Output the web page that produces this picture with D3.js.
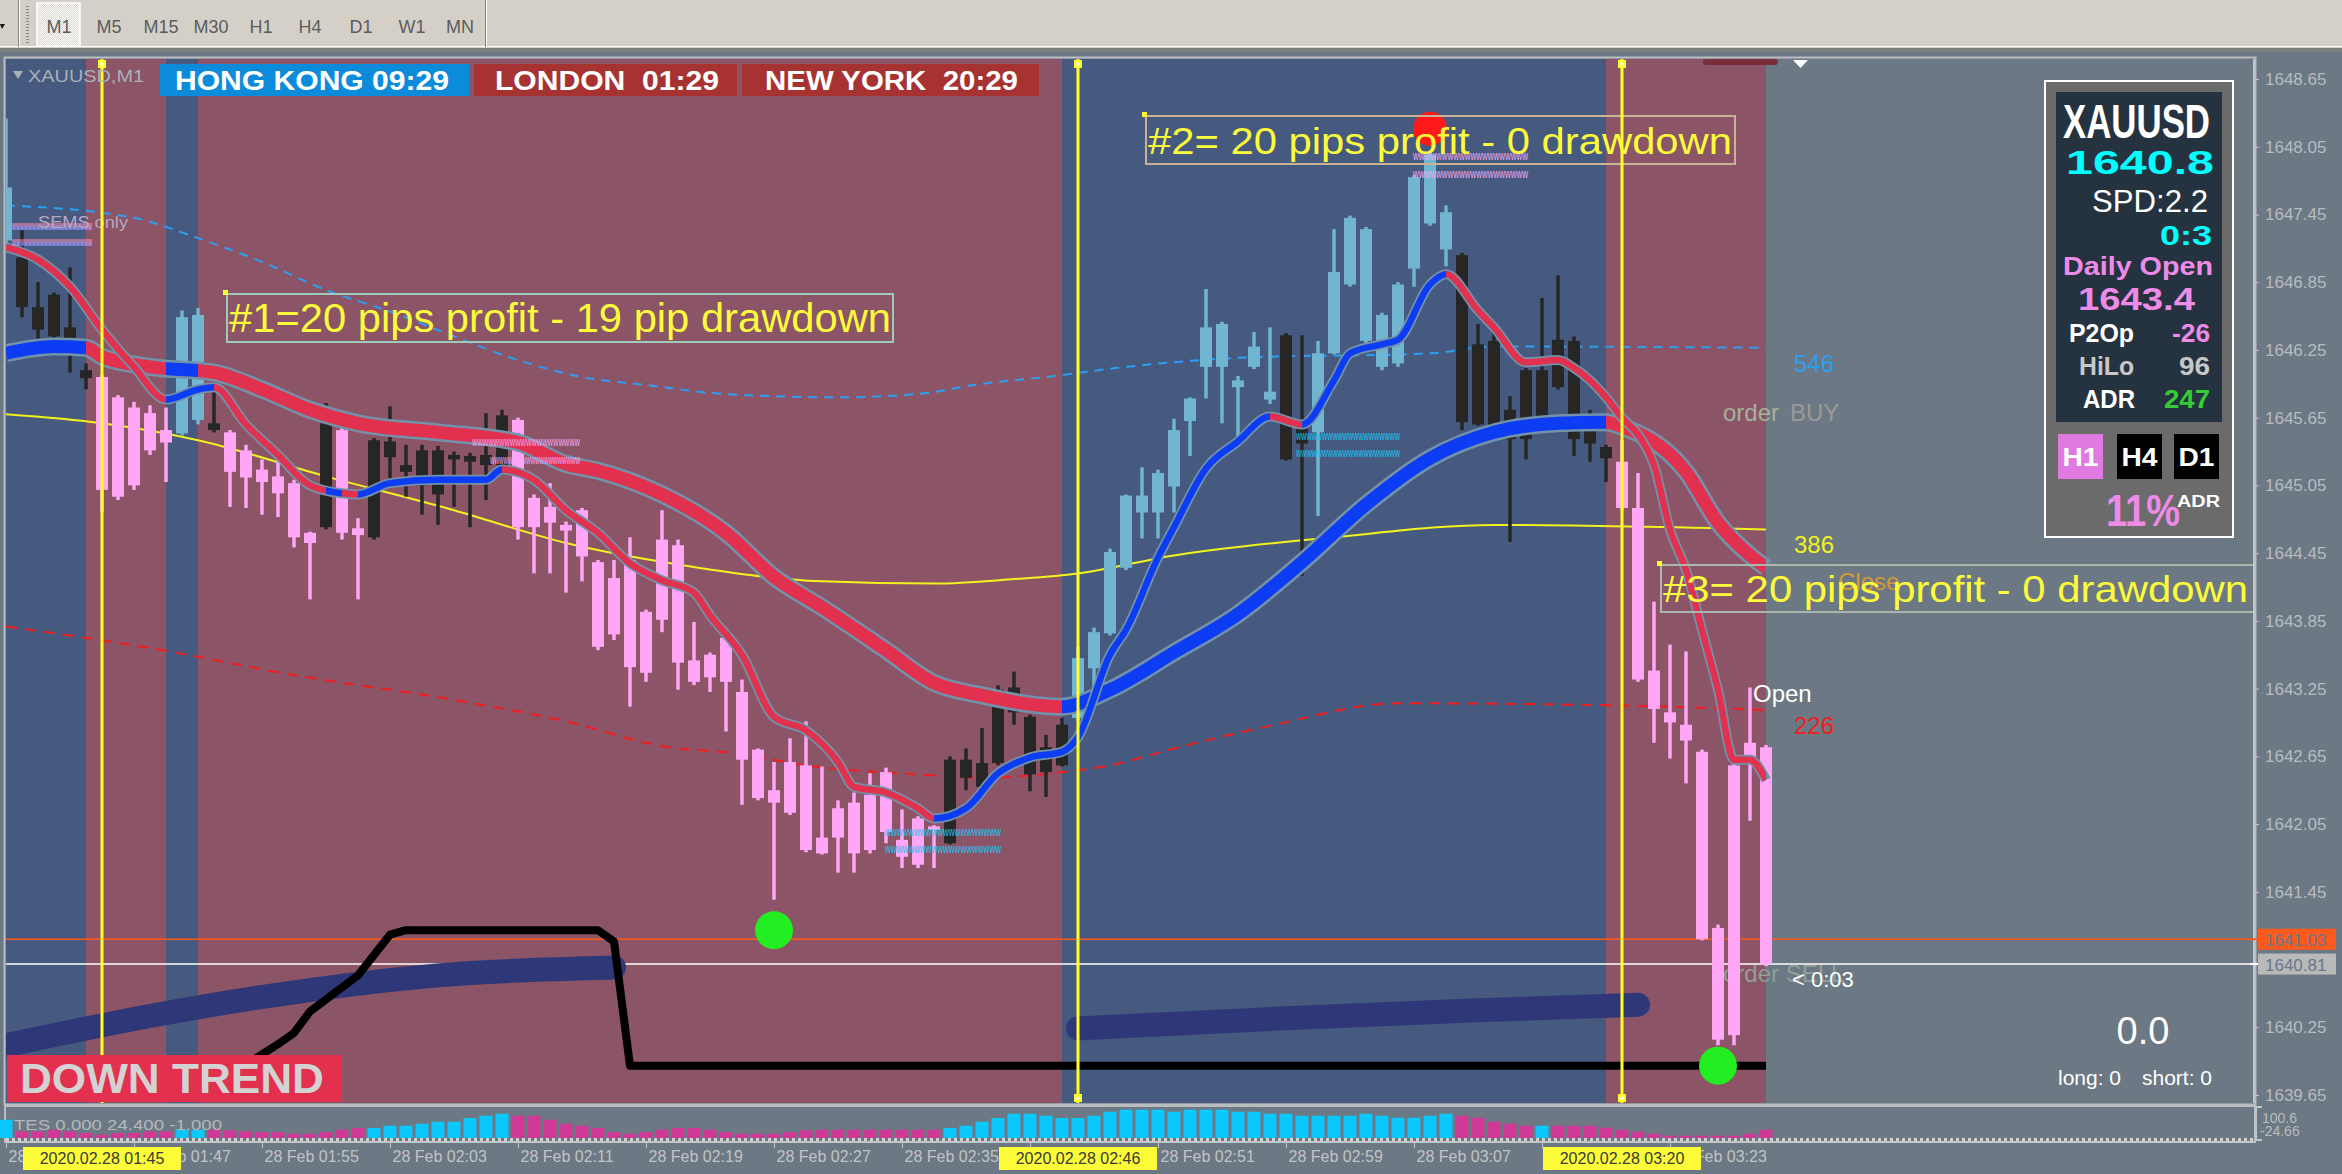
<!DOCTYPE html>
<html>
<head>
<meta charset="utf-8">
<title>XAUUSD,M1</title>
<script src="https://cdnjs.cloudflare.com/ajax/libs/d3/7.8.5/d3.min.js"></script>
<style>
  html, body { margin: 0; padding: 0; background: #6c7883; overflow: hidden; }
  svg { display: block; }
  text { font-family: "Liberation Sans", Arial, sans-serif; }
</style>
</head>
<body>
<div class="chart"></div>
<script>
var svgWidth = 2342;
var svgHeight = 1174;

// ------------------------------------------------------------------
// Data: XAUUSD M1, bar 0 = 01:39, one bar a minute
// ------------------------------------------------------------------
var firstBar = "2020-02-28 01:39";

var barOpen = [1647.22, 1647.07, 1646.63, 1646.74, 1646.45, 1646.07, 1646.01, 1645.83, 1645.74, 1645.69,
  1645.54, 1645.51, 1645.63, 1645.60, 1645.52, 1645.36, 1645.19, 1645.13, 1645.07, 1644.63,
  1644.68, 1645.54, 1644.67, 1644.59, 1645.30, 1645.17, 1645.05, 1644.97, 1645.28, 1645.26,
  1645.23, 1645.23, 1645.63, 1644.94, 1644.86, 1644.70, 1644.83, 1644.37, 1644.23, 1644.39,
  1643.93, 1644.57, 1644.52, 1643.50, 1643.55, 1643.70, 1643.22, 1642.71, 1642.35, 1642.60,
  1642.57, 1641.93, 1642.19, 1642.24, 1642.31, 1642.51, 1641.91, 1642.10, 1642.03, 1641.88,
  1642.62, 1642.38, 1642.59, 1643.04, 1643.00, 1642.51, 1642.57, 1642.99, 1643.43, 1643.74,
  1644.32, 1644.81, 1644.81, 1645.04, 1645.62, 1646.10, 1646.10, 1645.92, 1646.10, 1645.81,
  1646.38, 1645.57, 1645.52, 1646.22, 1646.83, 1646.33, 1646.10, 1646.13, 1646.97, 1647.37,
  1647.14, 1647.09, 1646.30, 1646.33, 1645.72, 1646.07, 1646.07, 1646.34, 1646.33, 1645.67,
  1645.39, 1645.26, 1644.85, 1643.41, 1643.04, 1642.93, 1642.69, 1641.13, 1640.18, 1642.77,
  1642.73];
var barHigh = [1648.30, 1647.31, 1646.85, 1646.76, 1646.98, 1646.13, 1646.03, 1645.85, 1645.79, 1645.76,
  1645.74, 1646.60, 1646.62, 1645.96, 1645.54, 1645.41, 1645.28, 1645.32, 1645.10, 1644.64,
  1645.78, 1645.59, 1644.76, 1645.47, 1645.75, 1645.41, 1645.41, 1645.40, 1645.35, 1645.34,
  1645.69, 1645.72, 1645.65, 1644.97, 1645.07, 1644.73, 1644.85, 1644.39, 1644.39, 1644.59,
  1643.95, 1644.83, 1644.57, 1643.84, 1643.57, 1643.72, 1643.33, 1642.72, 1642.60, 1642.81,
  1642.96, 1642.56, 1642.26, 1642.33, 1642.50, 1642.55, 1642.18, 1642.12, 1642.04, 1642.65,
  1642.72, 1642.90, 1643.28, 1643.40, 1643.02, 1642.84, 1642.99, 1643.62, 1643.79, 1644.49,
  1644.97, 1645.21, 1645.19, 1645.64, 1645.83, 1646.79, 1646.50, 1646.02, 1646.41, 1646.45,
  1646.40, 1646.38, 1646.33, 1647.32, 1647.44, 1647.34, 1646.58, 1646.85, 1647.80, 1648.00,
  1647.53, 1647.11, 1646.48, 1646.43, 1645.84, 1646.09, 1646.71, 1646.91, 1646.37, 1645.72,
  1645.41, 1645.45, 1645.16, 1644.02, 1643.64, 1643.58, 1642.71, 1641.16, 1642.59, 1643.26,
  1642.75];
var barLow = [1647.18, 1646.54, 1646.34, 1646.34, 1646.05, 1645.90, 1644.81, 1644.92, 1645.01, 1645.32,
  1645.08, 1645.49, 1645.59, 1645.52, 1644.86, 1644.85, 1644.79, 1644.77, 1644.50, 1644.04,
  1644.66, 1644.57, 1644.04, 1644.57, 1645.07, 1644.95, 1644.79, 1644.70, 1644.86, 1644.68,
  1644.92, 1645.21, 1644.57, 1644.27, 1644.27, 1644.10, 1644.20, 1643.59, 1643.68, 1643.09,
  1643.31, 1643.75, 1643.24, 1643.28, 1643.22, 1642.87, 1642.22, 1642.26, 1641.38, 1642.13,
  1641.80, 1641.78, 1641.62, 1641.62, 1641.79, 1641.88, 1641.66, 1641.66, 1641.66, 1641.87,
  1642.35, 1642.37, 1642.57, 1642.93, 1642.34, 1642.29, 1642.56, 1642.97, 1643.18, 1643.72,
  1644.30, 1644.58, 1644.58, 1644.81, 1645.31, 1645.82, 1645.60, 1645.42, 1646.08, 1645.77,
  1645.27, 1644.25, 1644.78, 1646.21, 1646.81, 1646.28, 1646.07, 1646.10, 1646.81, 1647.35,
  1646.99, 1645.54, 1645.58, 1645.46, 1644.55, 1645.28, 1645.58, 1645.90, 1645.31, 1645.26,
  1645.08, 1644.83, 1643.31, 1642.77, 1642.63, 1642.41, 1641.02, 1640.09, 1640.09, 1642.08,
  1640.79];
var barClose = [1647.69, 1646.63, 1646.43, 1646.37, 1646.34, 1646.00, 1645.01, 1644.95, 1645.05, 1645.36,
  1645.43, 1646.54, 1646.56, 1645.54, 1645.17, 1645.12, 1645.08, 1644.98, 1644.59, 1644.54,
  1645.60, 1644.63, 1644.61, 1645.45, 1645.44, 1645.23, 1645.36, 1645.36, 1645.32, 1645.31,
  1645.32, 1645.67, 1644.68, 1644.68, 1644.72, 1644.65, 1644.42, 1643.62, 1643.73, 1643.44,
  1643.39, 1643.86, 1643.48, 1643.31, 1643.35, 1643.31, 1642.62, 1642.28, 1642.24, 1642.15,
  1641.82, 1641.79, 1641.93, 1641.79, 1641.82, 1641.98, 1641.76, 1641.69, 1642.00, 1642.62,
  1642.46, 1642.59, 1643.24, 1643.26, 1642.49, 1642.73, 1642.93, 1643.52, 1643.75, 1644.46,
  1644.96, 1644.96, 1645.16, 1645.54, 1645.82, 1646.45, 1646.48, 1645.98, 1646.28, 1645.88,
  1645.28, 1645.42, 1646.22, 1646.94, 1647.42, 1647.32, 1646.56, 1646.83, 1647.78, 1647.98,
  1647.47, 1645.61, 1645.59, 1645.57, 1645.46, 1645.46, 1645.59, 1645.92, 1645.46, 1645.42,
  1645.29, 1644.85, 1643.33, 1643.07, 1642.95, 1642.79, 1641.03, 1640.14, 1642.57, 1642.63,
  1640.81];
// candle colouring: u = bull, d = bear, n = neutral (black)
var barKind = ("u" + "nnnnn" + "ddddd" + "uu" + "n" + "dddddd" + "n" + "dd" + "nnnnnnnnn" +
  "ddddddddddddddddddddddddddd" + "nnnnnnnn" + "uuuuuuuuuuuuu" + "nn" + "uuuuuuuuu" +
  "nnnnnnnnnn" + "dddddddddd").split("");

// slow MA (thick) and fast MA (thin), sampled at bar indices
var slowIdx = [0, 3, 5, 6, 9, 13, 16, 19, 22, 27, 32, 35, 37, 41, 45, 48, 51, 55, 58, 61,
  66, 69, 73, 77, 81, 85, 89, 93, 97, 100, 101, 105, 107, 109, 110];
var slowVal = [1646.22, 1646.28, 1646.27, 1646.19, 1646.10, 1646.05, 1645.90, 1645.72, 1645.60, 1645.52,
  1645.43, 1645.24, 1645.18, 1644.97, 1644.63, 1644.24, 1643.97, 1643.59, 1643.30, 1643.19,
  1643.09, 1643.24, 1643.57, 1643.91, 1644.37, 1644.88, 1645.29, 1645.52, 1645.60, 1645.61,
  1645.57, 1645.17, 1644.72, 1644.43, 1644.32];
var fastIdx = [0, 2, 4, 6, 8, 10, 12, 13, 15, 17, 19, 21, 22, 24, 27, 30, 31, 33, 35, 37,
  39, 41, 43, 44, 46, 48, 50, 52, 53, 55, 57, 58, 60, 62, 64, 66, 67, 69, 70, 72,
  73, 75, 77, 79, 81, 83, 84, 86, 87, 89, 90, 92, 93, 95, 97, 98, 99, 100, 101, 102,
  103, 104, 105, 106, 107, 108, 109, 110];
var fastVal = [1647.16, 1647.05, 1646.81, 1646.43, 1646.10, 1645.81, 1645.90, 1645.92, 1645.59, 1645.32,
  1645.05, 1644.98, 1644.97, 1645.07, 1645.10, 1645.10, 1645.19, 1645.10, 1644.83, 1644.63,
  1644.36, 1644.21, 1644.10, 1643.90, 1643.55, 1643.00, 1642.88, 1642.60, 1642.38, 1642.33,
  1642.19, 1642.10, 1642.19, 1642.50, 1642.64, 1642.69, 1642.82, 1643.55, 1643.77, 1644.41,
  1644.68, 1645.20, 1645.44, 1645.66, 1645.59, 1645.98, 1646.22, 1646.30, 1646.34, 1646.83,
  1646.92, 1646.60, 1646.45, 1646.14, 1646.16, 1646.09, 1645.98, 1645.83, 1645.65, 1645.50,
  1645.23, 1644.66, 1644.30, 1643.77, 1643.24, 1642.62, 1642.62, 1642.44];

// trend state of the slow MA (also colours the background) and of the fast MA
var trendTurn = [0, 5, 10, 12, 66, 100];
var trendDir = ["up", "dn", "up", "dn", "up", "dn"];
var fastTurn = [0, 10, 13, 20, 21, 22, 31, 58, 79, 81, 90];
var fastDir = ["dn", "up", "dn", "up", "dn", "up", "dn", "up", "dn", "up", "dn"];

// thin reference lines
var blueIdx = [0, 8, 12, 16, 20, 24, 28, 32, 36, 40, 44, 48, 52, 57, 61, 65, 70, 77, 89, 93, 110];
var blueVal = [1647.53, 1647.42, 1647.24, 1647.03, 1646.78, 1646.59, 1646.37, 1646.16, 1646.01, 1645.94,
  1645.87, 1645.84, 1645.83, 1645.86, 1645.95, 1646.01, 1646.10, 1646.18, 1646.22, 1646.28, 1646.27];
var yellowIdx = [0, 6, 12, 20, 28, 35, 42, 51, 58, 63, 67, 73, 83, 93, 110];
var yellowVal = [1645.68, 1645.60, 1645.45, 1645.13, 1644.83, 1644.54, 1644.35, 1644.20, 1644.18, 1644.22,
  1644.27, 1644.43, 1644.59, 1644.70, 1644.66];
var redIdx = [0, 9, 18, 28, 35, 41, 46, 50, 57, 61, 66, 69, 73, 79, 87, 101, 110];
var redVal = [1643.80, 1643.61, 1643.37, 1643.15, 1642.96, 1642.74, 1642.67, 1642.57, 1642.49, 1642.46,
  1642.51, 1642.57, 1642.72, 1642.92, 1643.12, 1643.10, 1643.06];
var lineLabels = ["546", "386", "226"];

// navy bands and black step line near the bottom
var navyAIdx = [0, 9, 18, 27, 38];
var navyAVal = [1640.09, 1640.35, 1640.56, 1640.71, 1640.78];
var navyBIdx = [67, 80, 92, 102];
var navyBVal = [1640.24, 1640.33, 1640.40, 1640.45];
var stepIdx = [14, 16, 17, 18, 19, 22, 24, 25, 37, 38, 39, 110];
var stepVal = [1639.83, 1640.01, 1640.10, 1640.20, 1640.39, 1640.71, 1641.07, 1641.11, 1641.11, 1641.01, 1639.91, 1639.91];

// dots (swing markers)
var dotIdx = [48, 107, 89];
var dotVal = [1641.11, 1639.91, 1648.21];
var dotKind = ["low", "low", "high"];

// price lines
var askPrice = 1641.03;
var bidPrice = 1640.81;

// TES histogram, one value per bar (+ cyan, - magenta)
var tesVal = [18.3, -6.7, -6.7, -8.3, -6.7, -5, -3.3, -5, -5, -6.7, -6.7, 8.3, 8.3,
  -8.3, -7.7, -6.7, -6, -6, -4.3, -4.3, -6, -8.3, -10,
  10, 12.3, 12.3, 14.3, 16.3, 16.3, 20, 22.3, 24.3,
  -22.3, -22.3, -18.3, -14.3, -12.3, -10, -6, -4.3, -6, -8.3, -10, -10, -8.3, -6, -4.3, -4.3, -4.3, -6, -7.7,
  -8.3, -8.3, -8.3, -8.3, -8.3, -8.3, -8.3, -8.3,
  10, 12.3, 16.3, 20, 24.3, 24.3, 22.3, 20, 20, 22.3, 26.3, 28.3, 28.3,
  28.3, 26.3, 28.3, 28.3, 28.3, 26.3, 26.3, 24.3, 24.3, 22.3, 22.3, 22.3, 22.3, 24.3, 22.3, 20.3, 20.3, 22.3, 24.3,
  -22.3, -20.3, -16.3, -14.3, -12.3, 12.3,
  -12.3, -12.3, -12.3, -10.3, -8.3, -6.3, -4.3, -2.3, -2.3, -2.3, -2.3, -2.3, -4.3, -8.3];

// axes
var priceTicks = [1648.65, 1648.05, 1647.45, 1646.85, 1646.25, 1645.65, 1645.05, 1644.45, 1643.85,
  1643.25, 1642.65, 1642.05, 1641.45, 1640.25, 1639.65];
var timeTicks = ["01:39", "01:47", "01:55", "02:03", "02:11", "02:19", "02:27", "02:35", "02:43",
  "02:51", "02:59", "03:07", "03:15", "03:23"];
var markTimes = ["01:45", "02:46", "03:20"];

// texts
var timeframes = ["M1", "M5", "M15", "M30", "H1", "H4", "D1", "W1", "MN"];
var sessionNames = ["HONG KONG 09:29", "LONDON  01:29", "NEW YORK  20:29"];
var tradeNotes = ["#1=20 pips profit - 19 pip drawdown", "#2= 20 pips profit - 0 drawdown", "#3= 20 pips profit - 0 drawdown"];

// ------------------------------------------------------------------
var parseTime = d3.timeParse("%Y-%m-%d %H:%M");
var t0 = parseTime(firstBar);
var lastBar = barOpen.length - 1;
function barTime(i) { return d3.timeMinute.offset(t0, i); }
function hhmm(s) { return parseTime("2020-02-28 " + s); }

var plot = { left: 6, right: 2254, top: 59, bottom: 1103 };

var x = d3.scaleTime()
  .domain([barTime(0), barTime(lastBar)])
  .range([6, 1766]);
function xi(i) { return x(barTime(i)); }

var y = d3.scaleLinear()
  .domain([1639.65, 1648.65])
  .range([1095, 79]);

var svg = d3.select(".chart")
  .append("svg")
  .attr("width", svgWidth)
  .attr("height", svgHeight);

var defs = svg.append("defs");

// ---------------- toolbar ----------------
var chk = defs.append("pattern").attr("id", "chk")
  .attr("width", 2).attr("height", 2).attr("patternUnits", "userSpaceOnUse");
chk.append("rect").attr("width", 2).attr("height", 2).attr("fill", "#d8d5cf");
chk.append("rect").attr("width", 1).attr("height", 1).attr("fill", "#ffffff");
chk.append("rect").attr("x", 1).attr("y", 1).attr("width", 1).attr("height", 1).attr("fill", "#ffffff");

var toolbar = svg.append("g");
toolbar.append("rect").attr("width", svgWidth).attr("height", 48).attr("fill", "#d4d0c8");
toolbar.append("rect").attr("y", 46).attr("width", svgWidth).attr("height", 1).attr("fill", "#ffffff");
toolbar.append("rect").attr("y", 48).attr("width", svgWidth).attr("height", 4).attr("fill", "#7d7d7d");
toolbar.append("path").attr("d", "M0,24 L5,24 L2,29 Z").attr("fill", "#111");
toolbar.append("rect").attr("x", 18).attr("y", 0).attr("width", 1).attr("height", 47).attr("fill", "#808080");
toolbar.append("rect").attr("x", 19).attr("y", 0).attr("width", 1).attr("height", 47).attr("fill", "#ffffff");
d3.range(6, 44, 3).forEach(function(gy) {
  toolbar.append("rect").attr("x", 26).attr("y", gy).attr("width", 3).attr("height", 1).attr("fill", "#888");
});
toolbar.append("rect").attr("x", 37).attr("y", 3).attr("width", 43).attr("height", 43)
  .attr("fill", "url(#chk)").attr("stroke", "#ffffff").attr("stroke-width", 1.5);
var tfX = [59, 109, 161, 211, 261, 310, 361, 412, 460];
toolbar.selectAll(".tf").data(timeframes).enter().append("text")
  .attr("x", (d, i) => tfX[i]).attr("y", 33)
  .attr("text-anchor", "middle")
  .attr("font-size", 18)
  .attr("fill", "#5c5c5c")
  .text(d => d);
toolbar.append("rect").attr("x", 485).attr("y", 0).attr("width", 1).attr("height", 47).attr("fill", "#808080");
toolbar.append("rect").attr("x", 486).attr("y", 0).attr("width", 1).attr("height", 47).attr("fill", "#ffffff");

// ---------------- main price window ----------------
defs.append("clipPath").attr("id", "plotClip").append("rect")
  .attr("x", plot.left).attr("y", plot.top)
  .attr("width", plot.right - plot.left).attr("height", plot.bottom - plot.top);

svg.append("rect")
  .attr("x", plot.left - 1.5).attr("y", plot.top - 1.5)
  .attr("width", plot.right - plot.left + 3).attr("height", plot.bottom - plot.top + 3)
  .attr("fill", "#6c7883").attr("stroke", "#b9bcc0").attr("stroke-width", 2);

var main = svg.append("g").attr("clip-path", "url(#plotClip)");

function segments(turns, dirs) {
  return turns.map(function(s, i) {
    return { from: s, to: i < turns.length - 1 ? turns[i + 1] : lastBar, dir: dirs[i] };
  });
}
var trendSegs = segments(trendTurn, trendDir);
var fastSegs = segments(fastTurn, fastDir);

// session / trend background
main.selectAll(".trendBg")
  .data(trendSegs)
  .enter()
  .append("rect")
  .attr("x", d => xi(d.from))
  .attr("width", d => xi(d.to) - xi(d.from))
  .attr("y", plot.top)
  .attr("height", plot.bottom - plot.top)
  .attr("fill", d => d.dir === "up" ? "#465a7f" : "#8c5467");

function pts(idx, val) { return idx.map((k, i) => [k, val[i]]); }
var smooth = d3.line().x(d => xi(d[0])).y(d => y(d[1])).curve(d3.curveMonotoneX);
var straight = d3.line().x(d => xi(d[0])).y(d => y(d[1]));

// thin reference lines
main.append("path").attr("d", smooth(pts(blueIdx, blueVal)))
  .attr("fill", "none").attr("stroke", "#2d9ff2").attr("stroke-width", 2).attr("stroke-dasharray", "9,7");
main.append("path").attr("d", smooth(pts(yellowIdx, yellowVal)))
  .attr("fill", "none").attr("stroke", "#f2f21e").attr("stroke-width", 2);
main.append("path").attr("d", smooth(pts(redIdx, redVal)))
  .attr("fill", "none").attr("stroke", "#f01e1e").attr("stroke-width", 2).attr("stroke-dasharray", "11,8");

// bid / ask lines
main.append("line").attr("x1", plot.left).attr("x2", plot.right)
  .attr("y1", y(askPrice)).attr("y2", y(askPrice))
  .attr("stroke", "#ff5a14").attr("stroke-width", 1.5);
main.append("line").attr("x1", plot.left).attr("x2", plot.right)
  .attr("y1", y(bidPrice)).attr("y2", y(bidPrice))
  .attr("stroke", "#ffffff").attr("stroke-width", 1.5);

// order labels sit under the candles
main.append("text").attr("x", 1723).attr("y", 421).attr("font-size", 24).attr("fill", "#a4b39a").text("order");
main.append("text").attr("x", 1790).attr("y", 421).attr("font-size", 24).attr("fill", "#9a9a9a").text("BUY");
main.append("text").attr("x", 1838).attr("y", 590).attr("font-size", 24).attr("fill", "#f0a020").attr("opacity", 0.8).text("Close");
main.append("text").attr("x", 1723).attr("y", 982).attr("font-size", 24).attr("fill", "#8fa096").text("order SELL");

// navy bands
[pts(navyAIdx, navyAVal), pts(navyBIdx, navyBVal)].forEach(function(p) {
  main.append("path").attr("d", smooth(p))
    .attr("fill", "none").attr("stroke", "#2e3878").attr("stroke-width", 24)
    .attr("stroke-linecap", "round");
});

// candles
var bars = barOpen.map(function(o, i) {
  return { t: barTime(i), o: o, h: barHigh[i], l: barLow[i], c: barClose[i], kind: barKind[i] };
});
var kindColor = { u: "#71b5d1", d: "#ffa6f6", n: "#262626" };

var candleGroup = main.append("g");
candleGroup.selectAll(".wick")
  .data(bars)
  .enter()
  .append("line")
  .attr("x1", d => x(d.t)).attr("x2", d => x(d.t))
  .attr("y1", d => y(d.h)).attr("y2", d => y(d.l))
  .attr("stroke", d => kindColor[d.kind])
  .attr("stroke-width", 3.5);
candleGroup.selectAll(".body")
  .data(bars)
  .enter()
  .append("rect")
  .attr("x", d => x(d.t) - 6)
  .attr("width", 12)
  .attr("y", d => y(Math.max(d.o, d.c)))
  .attr("height", d => Math.max(3, Math.abs(y(d.o) - y(d.c))))
  .attr("fill", d => kindColor[d.kind]);

// black step line
main.append("path").attr("d", straight(pts(stepIdx, stepVal)))
  .attr("fill", "none").attr("stroke", "#000").attr("stroke-width", 8)
  .attr("stroke-linejoin", "round");

// coloured moving averages: red everywhere, blue where the trend is up
function addClip(id, segs, dir) {
  var cp = defs.append("clipPath").attr("id", id);
  segs.filter(s => s.dir === dir).forEach(function(s) {
    cp.append("rect").attr("x", xi(s.from)).attr("width", xi(s.to) - xi(s.from))
      .attr("y", 0).attr("height", svgHeight);
  });
}
addClip("slowUp", trendSegs, "up");
addClip("slowDn", trendSegs, "dn");
addClip("fastUp", fastSegs, "up");
addClip("fastDn", fastSegs, "dn");

function drawMA(p, outerW, innerW, name) {
  var d = smooth(p);
  main.append("path").attr("d", d).attr("fill", "none")
    .attr("stroke", "#7391a8").attr("stroke-width", outerW).attr("stroke-linejoin", "round");
  main.append("path").attr("d", d).attr("fill", "none")
    .attr("stroke", "#e2304f").attr("stroke-width", innerW)
    .attr("clip-path", "url(#" + name + "Dn)");
  main.append("path").attr("d", d).attr("fill", "none")
    .attr("stroke", "#0c3cf4").attr("stroke-width", innerW)
    .attr("clip-path", "url(#" + name + "Up)");
}
drawMA(pts(slowIdx, slowVal), 18, 13, "slow");
drawMA(pts(fastIdx, fastVal), 10, 6.5, "fast");

// little squiggle markers
var squiggles = [
  { x: 12, y: 230, w: 80, c: "#f0a8f0" }, { x: 12, y: 246, w: 80, c: "#f0a8f0" },
  { x: 472, y: 446, w: 108, c: "#f0a8f0" }, { x: 490, y: 464, w: 90, c: "#f0a8f0" },
  { x: 1413, y: 160, w: 115, c: "#f0a8f0" }, { x: 1413, y: 178, w: 115, c: "#f0a8f0" },
  { x: 1296, y: 440, w: 104, c: "#19c4f2" }, { x: 1296, y: 457, w: 104, c: "#19c4f2" },
  { x: 885, y: 836, w: 116, c: "#19c4f2" }, { x: 885, y: 853, w: 116, c: "#19c4f2" }
];
main.selectAll(".sq").data(squiggles).enter().append("text")
  .attr("x", d => d.x).attr("y", d => d.y)
  .attr("font-size", 12).attr("fill", d => d.c)
  .attr("textLength", d => d.w).attr("lengthAdjust", "spacingAndGlyphs")
  .text("wwwwwwwwwwwwwwwwwwww");
main.append("text").attr("x", 38).attr("y", 228).attr("font-size", 16)
  .attr("fill", "#b9a7c2").attr("textLength", 90).attr("lengthAdjust", "spacingAndGlyphs")
  .text("SEMS only");

// swing dots
main.selectAll(".dot").data(dotIdx).enter().append("circle")
  .attr("cx", d => xi(d))
  .attr("cy", (d, i) => y(dotVal[i]))
  .attr("r", (d, i) => dotKind[i] === "high" ? 17 : 19)
  .attr("fill", (d, i) => dotKind[i] === "high" ? "#ff1a1a" : "#22ee22");

// trade notes
var noteBoxes = [
  { x: 227, y: 294, w: 666, h: 48, base: 332, stroke: "#9fc9b9", font: "Liberation Sans Narrow", size: 40 },
  { x: 1146, y: 116, w: 589, h: 48, base: 154, stroke: "#c9b394", font: "DejaVu Sans", size: 36 },
  { x: 1661, y: 565, w: 600, h: 47, base: 602, stroke: "#a8b8ae", font: "DejaVu Sans", size: 37 }
];
var noteLen = [662, 584, 585];
noteBoxes.forEach(function(b, i) {
  main.append("rect").attr("x", b.x).attr("y", b.y).attr("width", b.w).attr("height", b.h)
    .attr("fill", "none").attr("stroke", b.stroke).attr("stroke-width", 2);
  main.append("rect").attr("x", b.x - 4).attr("y", b.y - 4).attr("width", 5).attr("height", 5).attr("fill", "#ffff30");
  main.append("text").attr("x", b.x + 2).attr("y", b.base)
    .attr("font-family", b.font).attr("font-size", b.size)
    .attr("fill", "#fbfb3c")
    .attr("textLength", noteLen[i]).attr("lengthAdjust", "spacingAndGlyphs")
    .text(tradeNotes[i]);
});

// right side labels of the reference lines
var lastLineVal = [blueVal[blueVal.length - 1], yellowVal[yellowVal.length - 1], redVal[redVal.length - 1]];
var lineLabelColor = ["#2d9ff2", "#f2f21e", "#f01e1e"];
main.selectAll(".lineLabel").data(lineLabels).enter().append("text")
  .attr("x", 1794)
  .attr("y", (d, i) => y(lastLineVal[i]) + 24)
  .attr("font-size", 24)
  .attr("fill", (d, i) => lineLabelColor[i])
  .text(d => d);

main.append("text").attr("x", 1753).attr("y", 702).attr("font-size", 24).attr("fill", "#ffffff").text("Open");
main.append("text").attr("x", 1792).attr("y", 987).attr("font-size", 22).attr("fill", "#ffffff").text("< 0:03");
main.append("text").attr("x", 2143).attr("y", 1044).attr("font-size", 38).attr("text-anchor", "middle")
  .attr("fill", "#ffffff").text("0.0");
main.append("text").attr("x", 2058).attr("y", 1085).attr("font-size", 21).attr("fill", "#ffffff").text("long: 0");
main.append("text").attr("x", 2212).attr("y", 1085).attr("font-size", 21).attr("text-anchor", "end")
  .attr("fill", "#ffffff").text("short: 0");

// top-right markers
main.append("path").attr("d", "M1793,60 L1808,60 L1800.5,68 Z").attr("fill", "#ffffff");
main.append("rect").attr("x", 1703).attr("y", 59).attr("width", 75).attr("height", 6)
  .attr("rx", 3).attr("fill", "#7a2d3c");

// vertical event lines
var markGroup = svg.append("g");
markTimes.forEach(function(s) {
  var mx = x(hhmm(s));
  markGroup.append("line").attr("x1", mx).attr("x2", mx).attr("y1", plot.top).attr("y2", plot.bottom)
    .attr("stroke", "#ffff28").attr("stroke-width", 3);
  markGroup.append("line").attr("x1", mx).attr("x2", mx).attr("y1", 1107).attr("y2", 1141)
    .attr("stroke", "#ffff28").attr("stroke-width", 3);
  [60, 1094].forEach(function(sy) {
    markGroup.append("rect").attr("x", mx - 4).attr("y", sy).attr("width", 8).attr("height", 8).attr("fill", "#ffff28");
    markGroup.append("rect").attr("x", mx - 1.5).attr("y", sy + 2.5).attr("width", 3).attr("height", 3).attr("fill", "#ffffff");
  });
});

// DOWN TREND badge
svg.append("rect").attr("x", 7).attr("y", 1055).attr("width", 335).attr("height", 47).attr("fill", "#e3304f");
svg.append("text").attr("x", 20).attr("y", 1093)
  .attr("font-size", 42).attr("font-weight", "bold").attr("fill", "#d3d3d3")
  .attr("textLength", 304).attr("lengthAdjust", "spacingAndGlyphs")
  .text("DOWN TREND");

// session clocks
var sessionBoxes = [
  { x: 160, w: 309, fill: "#0b8bd9", tx: 175, tl: 274 },
  { x: 474, w: 263, fill: "#a63232", tx: 495, tl: 224 },
  { x: 742, w: 297, fill: "#a63232", tx: 765, tl: 253 }
];
sessionBoxes.forEach(function(b, i) {
  svg.append("rect").attr("x", b.x).attr("y", 64).attr("width", b.w).attr("height", 32).attr("fill", b.fill);
  svg.append("text").attr("x", b.tx).attr("y", 90)
    .attr("font-size", 27).attr("font-weight", "bold").attr("fill", "#ffffff")
    .attr("textLength", b.tl).attr("lengthAdjust", "spacingAndGlyphs")
    .attr("xml:space", "preserve")
    .text(sessionNames[i]);
});

svg.append("path").attr("d", "M13,71 L23,71 L18,79 Z").attr("fill", "#a9b1b9");
svg.append("text").attr("x", 28).attr("y", 82).attr("font-size", 17).attr("fill", "#a9b1b9")
  .attr("textLength", 116).attr("lengthAdjust", "spacingAndGlyphs").text("XAUUSD,M1");

// ---------------- info panel ----------------
var panel = svg.append("g");
panel.append("rect").attr("x", 2045).attr("y", 81).attr("width", 188).attr("height", 456)
  .attr("fill", "#6b6b6b").attr("stroke", "#ffffff").attr("stroke-width", 2);
panel.append("rect").attr("x", 2056).attr("y", 92).attr("width", 166).attr("height", 330).attr("fill", "#253340");

function panelText(t, px, py, size, color, len, opts) {
  opts = opts || {};
  var el = panel.append("text").attr("x", px).attr("y", py)
    .attr("font-family", opts.family || "DejaVu Sans")
    .attr("font-size", size)
    .attr("font-weight", opts.weight || "bold")
    .attr("fill", color)
    .attr("text-anchor", opts.anchor || "start")
    .text(t);
  if (len) el.attr("textLength", len).attr("lengthAdjust", "spacingAndGlyphs");
  return el;
}
panelText("XAUUSD", 2063, 138, 48, "#ffffff", 147, { family: "Liberation Sans Narrow" });
panelText("1640.8", 2066, 174, 33, "#00ffff", 148);
panelText("SPD:2.2", 2092, 212, 32, "#ffffff", 116, { weight: 200 });
panelText("0:3", 2160, 245, 28, "#00ffff", 52);
panelText("Daily Open", 2063, 275, 26, "#ee8be8", 150);
panelText("1643.4", 2078, 310, 31, "#ee8be8", 117);
panelText("P2Op", 2069, 342, 26, "#ffffff", 65);
panelText("-26", 2210, 342, 26, "#ee8be8", 38, { anchor: "end" });
panelText("HiLo", 2079, 375, 26, "#c8c8c8", 55);
panelText("96", 2210, 375, 26, "#c8c8c8", 31, { anchor: "end" });
panelText("ADR", 2083, 408, 26, "#ffffff", 52);
panelText("247", 2210, 408, 26, "#35cc35", 46, { anchor: "end" });

var tfButtons = [
  { t: "H1", x: 2058, fill: "#e07ae0" },
  { t: "H4", x: 2117, fill: "#000000" },
  { t: "D1", x: 2174, fill: "#000000" }
];
tfButtons.forEach(function(b) {
  panel.append("rect").attr("x", b.x).attr("y", 434).attr("width", 45).attr("height", 45).attr("fill", b.fill);
  panelText(b.t, b.x + 22.5, 466, 25, "#ffffff", 36, { family: "Liberation Sans", anchor: "middle" });
});
panelText("11%", 2106, 526, 44, "#ee8be8", 74);
panelText("ADR", 2177, 507, 16, "#ffffff", 43);

// ---------------- price axis ----------------
var priceAxis = d3.axisRight(y)
  .tickValues(priceTicks)
  .tickSize(5)
  .tickPadding(6)
  .tickFormat(d3.format(".2f"));
var pa = svg.append("g")
  .attr("transform", `translate(${plot.right}, 0)`)
  .call(priceAxis);
pa.select(".domain").attr("stroke", "#c3c6c9").attr("stroke-width", 2)
  .attr("d", `M0,${plot.top}V${plot.bottom}`);
pa.selectAll(".tick line").attr("stroke", "#c3c6c9");
pa.selectAll(".tick text").attr("font-size", 17).attr("fill", "#b8bcc0")
  .attr("font-family", "Liberation Sans");

[{ v: askPrice, fill: "#ff5a1e" }, { v: bidPrice, fill: "#b9b9b9" }].forEach(function(p) {
  svg.append("rect").attr("x", 2258).attr("y", y(p.v) - 10.5).attr("width", 78).attr("height", 21).attr("fill", p.fill);
  svg.append("line").attr("x1", 2250).attr("x2", 2258).attr("y1", y(p.v)).attr("y2", y(p.v))
    .attr("stroke", p.fill === "#ff5a1e" ? "#ff5a1e" : "#ffffff").attr("stroke-width", 2);
  svg.append("text").attr("x", 2265).attr("y", y(p.v) + 6.5)
    .attr("font-size", 17).attr("fill", "#68788a").text(d3.format(".2f")(p.v));
});

// ---------------- TES indicator window ----------------
var ind = { top: 1107, bottom: 1141 };
svg.append("rect").attr("x", plot.left - 1).attr("y", ind.top - 1)
  .attr("width", plot.right - plot.left + 2).attr("height", ind.bottom - ind.top + 2)
  .attr("fill", "#6c7883").attr("stroke", "#b9bcc0").attr("stroke-width", 2);

var yT = d3.scaleLinear().domain([0, 31]).range([1138, ind.top]);
svg.append("g").selectAll("rect")
  .data(tesVal)
  .enter()
  .append("rect")
  .attr("x", (d, i) => xi(i) - 6.5)
  .attr("width", 13)
  .attr("y", d => yT(Math.abs(d)))
  .attr("height", d => yT(0) - yT(Math.abs(d)))
  .attr("fill", d => d >= 0 ? "#0ac8fb" : "#d03a96");
svg.append("line").attr("x1", plot.left).attr("x2", plot.right).attr("y1", 1139.5).attr("y2", 1139.5)
  .attr("stroke", "#d0d0d0").attr("stroke-width", 3).attr("stroke-dasharray", "3,3");
svg.append("text").attr("x", 14).attr("y", 1130).attr("font-size", 15).attr("fill", "#b4b8bc")
  .attr("textLength", 208).attr("lengthAdjust", "spacingAndGlyphs")
  .text("TES 0.000 24.400 -1.000");
svg.append("path").attr("d", "M2256,1107 H2262 M2256,1107 V1140 H2262")
  .attr("fill", "none").attr("stroke", "#c3c6c9").attr("stroke-width", 2);
svg.append("text").attr("x", 2262).attr("y", 1123).attr("font-size", 14).attr("fill", "#b8bcc0").text("100.6");
svg.append("text").attr("x", 2260).attr("y", 1136).attr("font-size", 14).attr("fill", "#b8bcc0").text("-24.66");

// ---------------- time axis ----------------
var timeAxis = d3.axisBottom(x)
  .tickValues(timeTicks.map(hhmm))
  .tickSize(6)
  .tickFormat(d3.timeFormat("%d %b %H:%M"));
var ta = svg.append("g")
  .attr("transform", `translate(0, ${ind.bottom + 1})`)
  .call(timeAxis);
ta.select(".domain").attr("stroke", "#c3c6c9").attr("stroke-width", 2)
  .attr("d", `M${plot.left},0H${plot.right}`);
ta.selectAll(".tick line").attr("stroke", "#c3c6c9");
ta.selectAll(".tick text")
  .attr("text-anchor", "start").attr("dx", 2).attr("y", 9)
  .attr("font-size", 16).attr("fill", "#c3c3c3")
  .attr("font-family", "Liberation Sans");

var fullFmt = d3.timeFormat("%Y.%m.%d %H:%M");
markTimes.forEach(function(s) {
  var mx = x(hhmm(s));
  svg.append("rect").attr("x", mx - 79).attr("y", 1147).attr("width", 158).attr("height", 23).attr("fill", "#fbfb38");
  svg.append("text").attr("x", mx).attr("y", 1164).attr("text-anchor", "middle")
    .attr("font-size", 16).attr("fill", "#3a3a3a").text(fullFmt(hhmm(s)));
});
</script>
</body>
</html>
